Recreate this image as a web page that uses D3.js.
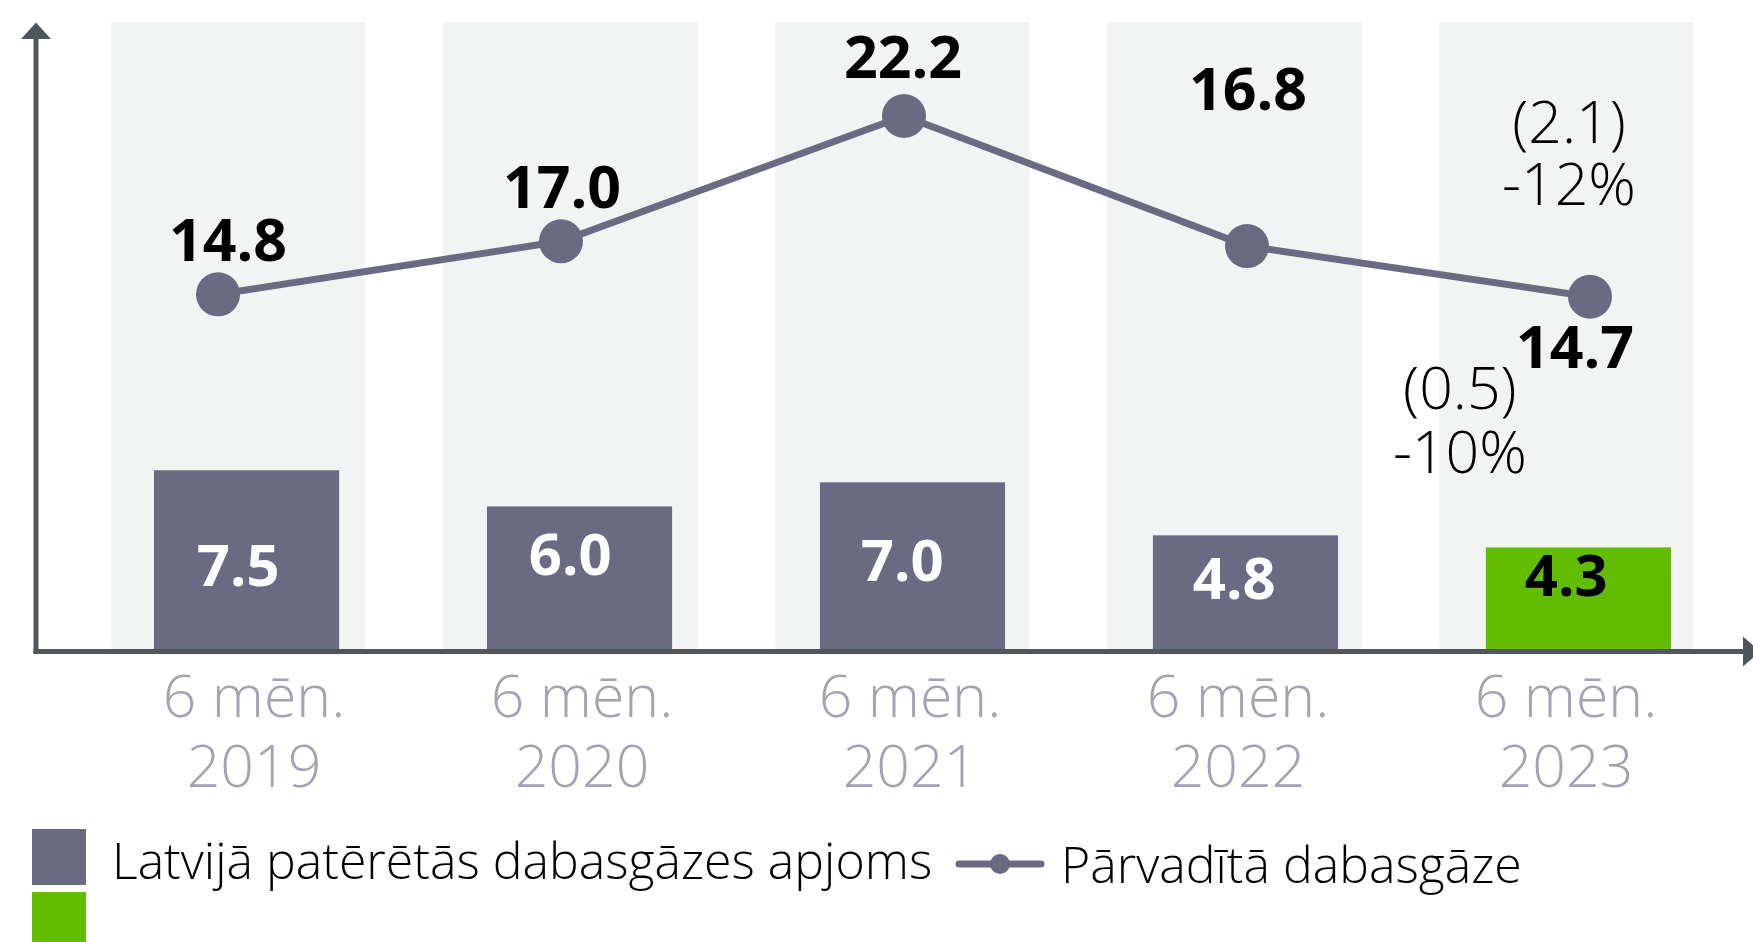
<!DOCTYPE html>
<html>
<head>
<meta charset="utf-8">
<script src="https://cdn.jsdelivr.net/npm/d3@7/dist/d3.min.js"></script>
<style>
  html, body { margin: 0; padding: 0; background: #ffffff; }
  svg { display: block; font-family: "Open Sans", "Lato", sans-serif; }
</style>
</head>
<body>
<svg id="chart" width="1753" height="942"></svg>
<script>
// ---- data ----
const categories = ["2019", "2020", "2021", "2022", "2023"];
const categoryPrefix = "6 mēn.";
const consumedVolume = [7.5, 6.0, 7.0, 4.8, 4.3];        // bars
const transportedGas = [14.8, 17.0, 22.2, 16.8, 14.7];   // line
const barLabels = ["7.5", "6.0", "7.0", "4.8", "4.3"];
const lineLabels = ["14.8", "17.0", "22.2", "16.8", "14.7"];
const lineChangeLabels = ["(2.1)", "-12%"];
const barChangeLabels = ["(0.5)", "-10%"];
const legendLabels = ["Latvijā patērētās dabasgāzes apjoms", "Pārvadītā dabasgāze"];

// ---- layout / style ----
const W = 1753, H = 942;
const colBar = "#6b6a83", colGreen = "#62bd00", colBand = "#f2f4f3",
      colAxis = "#50575a", colCat = "#a3a1b3";
const lineLabelOffsets = [[10, -33], [1, -33], [-1, -38], [1, -136], [-15, 71]];
const barLabelBaselines = [586, 575, 581, 599, 596];

const svg = d3.select("#chart");

const y = d3.scaleLinear().domain([0, 26]).range([651, 24.4]);
const bgX = d3.scaleBand().domain(categories).range([110.7, 1693.7]).paddingInner(0.232).paddingOuter(0);
const barX = d3.scaleBand().domain(categories).range([154, 1671]).paddingInner(0.444).paddingOuter(0);
const lineX = d3.scalePoint().domain(categories).range([218, 1590]);
const catX = d3.scalePoint().domain(categories).range([254, 1566]);

// background bands
svg.append("g").selectAll("rect").data(categories).join("rect")
  .attr("x", d => bgX(d)).attr("y", 22)
  .attr("width", bgX.bandwidth()).attr("height", 651 - 22)
  .attr("fill", colBand);

// bars
svg.append("g").selectAll("rect").data(consumedVolume).join("rect")
  .attr("x", (d, i) => barX(categories[i]))
  .attr("y", d => y(d))
  .attr("width", barX.bandwidth())
  .attr("height", d => y(0) - y(d) + 2)
  .attr("fill", (d, i) => i === categories.length - 1 ? colGreen : colBar);

// bar labels
svg.append("g").selectAll("text").data(barLabels).join("text")
  .attr("x", (d, i) => bgX(categories[i]) + bgX.bandwidth() / 2)
  .attr("y", (d, i) => barLabelBaselines[i])
  .attr("text-anchor", "middle")
  .attr("font-size", 58).attr("font-weight", 700)
  .attr("fill", (d, i) => i === categories.length - 1 ? "#000" : "#fff")
  .text(d => d);

// axes
const axisG = svg.append("g");
axisG.append("line").attr("x1", 36).attr("x2", 36).attr("y1", 654).attr("y2", 36)
  .attr("stroke", colAxis).attr("stroke-width", 5);
axisG.append("path").attr("d", "M21,39 L36,22.5 L51,39 Z").attr("fill", colAxis);
axisG.append("line").attr("x1", 33.5).attr("x2", 1746).attr("y1", 651.5).attr("y2", 651.5)
  .attr("stroke", colAxis).attr("stroke-width", 5);
axisG.append("path").attr("d", "M1743,636.5 L1760,651.5 L1743,666.5 Z").attr("fill", colAxis);

// category labels
const cat = svg.append("g").selectAll("text").data(categories).join("text")
  .attr("text-anchor", "middle")
  .attr("font-size", 59).attr("font-weight", 300)
  .attr("fill", colCat);
cat.append("tspan").attr("x", d => catX(d)).attr("y", 717).text(categoryPrefix);
cat.append("tspan").attr("x", d => catX(d)).attr("y", 787).text(d => d);

// line
const line = d3.line().x((d, i) => lineX(categories[i])).y(d => y(d));
svg.append("path").datum(transportedGas)
  .attr("d", line).attr("fill", "none")
  .attr("stroke", colBar).attr("stroke-width", 7);
svg.append("g").selectAll("circle").data(transportedGas).join("circle")
  .attr("cx", (d, i) => lineX(categories[i])).attr("cy", d => y(d)).attr("r", 22)
  .attr("fill", colBar);

// line labels
svg.append("g").selectAll("text").data(lineLabels).join("text")
  .attr("x", (d, i) => lineX(categories[i]) + lineLabelOffsets[i][0])
  .attr("y", (d, i) => y(transportedGas[i]) + lineLabelOffsets[i][1])
  .attr("text-anchor", "middle")
  .attr("font-size", 59).attr("font-weight", 700).attr("fill", "#000")
  .text(d => d);

// change annotations
const lastCat = categories[categories.length - 1];
const lc = svg.append("text").attr("text-anchor", "middle")
  .attr("font-size", 59).attr("font-weight", 300).attr("fill", "#000");
lineChangeLabels.forEach((t, k) => lc.append("tspan")
  .attr("x", lineX(lastCat) - 21).attr("y", 143 + k * 62).text(t));
const bc = svg.append("text").attr("text-anchor", "middle")
  .attr("font-size", 59).attr("font-weight", 300).attr("fill", "#000");
barChangeLabels.forEach((t, k) => bc.append("tspan")
  .attr("x", barX(lastCat) - 26).attr("y", 409 + k * 64).text(t));

// legend
const lg = svg.append("g");
lg.append("rect").attr("x", 32).attr("y", 829).attr("width", 54).attr("height", 56).attr("fill", colBar);
lg.append("rect").attr("x", 32).attr("y", 892).attr("width", 54).attr("height", 60).attr("fill", colGreen);
lg.append("text").attr("x", 112).attr("y", 879)
  .attr("font-size", 50).attr("font-weight", 300).attr("fill", "#000").text(legendLabels[0]);
lg.append("line").attr("x1", 959).attr("x2", 1041).attr("y1", 864).attr("y2", 864)
  .attr("stroke", colBar).attr("stroke-width", 7).attr("stroke-linecap", "round");
lg.append("circle").attr("cx", 1000).attr("cy", 864).attr("r", 10).attr("fill", colBar);
lg.append("text").attr("x", 1061).attr("y", 883)
  .attr("font-size", 50).attr("font-weight", 300).attr("fill", "#000").text(legendLabels[1]);
</script>
</body>
</html>
